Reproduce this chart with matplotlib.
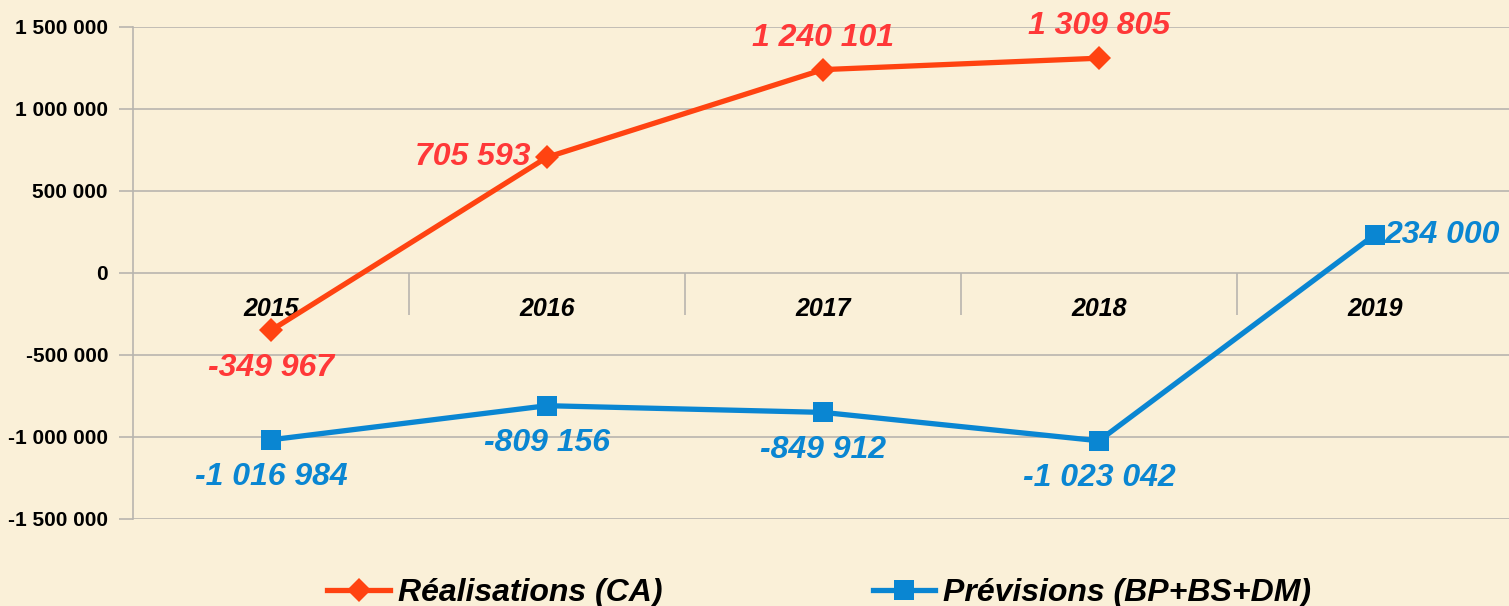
import matplotlib
matplotlib.use("Agg")
from matplotlib import pyplot as plt

years = ["2015", "2016", "2017", "2018", "2019"]
realisations = [-349967, 705593, 1240101, 1309805]
previsions = [-1016984, -809156, -849912, -1023042, 234000]
y_ticks = [-1500000, -1000000, -500000, 0, 500000, 1000000, 1500000]

# where each data label sits relative to its point (offset in points, ha, va)
real_label_pos = [((0, -27), "center", "center"), ((-12, 0), "right", "center"),
                  ((0, 23), "center", "center"), ((0, 23), "center", "center")]
prev_label_pos = [((0, -27), "center", "center"), ((0, -27), "center", "center"),
                  ((0, -27), "center", "center"), ((0, -27), "center", "center"),
                  ((7, 0), "left", "center")]

RED_LINE = "#FF4311"
RED_TEXT = "#FF3838"
BLUE = "#0A86D2"
BG = "#FAF0D8"
GRID = "#B8B5AE"

plt.rcParams["font.family"] = ["Liberation Sans", "DejaVu Sans"]


def fmt(v):
    s = f"{abs(v):,}".replace(",", " ")
    return ("-" if v < 0 else "") + s


fig = plt.figure(figsize=(15.09, 6.06), dpi=100, facecolor=BG)
ax = fig.add_axes([133 / 1509, 87 / 606, 1 - 133 / 1509, 492 / 606])
ax.set_facecolor(BG)

x_real = list(range(len(realisations)))
x_prev = list(range(len(previsions)))

ax.plot(x_real, realisations, color=RED_LINE, lw=3.8, marker="D", ms=12,
        mec=RED_LINE, mew=0, label="Réalisations (CA)", zorder=4)
ax.plot(x_prev, previsions, color=BLUE, lw=3.8, marker="s", ms=14,
        mec=BLUE, mew=0, label="Prévisions (BP+BS+DM)", zorder=4)

for x, v, (off, ha, va) in zip(x_real, realisations, real_label_pos):
    ax.annotate(fmt(v), (x, v), xytext=off, textcoords="offset points",
                ha=ha, va=va, color=RED_TEXT, fontsize=23,
                fontweight="bold", fontstyle="italic", zorder=5)
for x, v, (off, ha, va) in zip(x_prev, previsions, prev_label_pos):
    ax.annotate(fmt(v), (x, v), xytext=off, textcoords="offset points",
                ha=ha, va=va, color=BLUE, fontsize=23,
                fontweight="bold", fontstyle="italic", zorder=5)

ax.set_xlim(-0.5, 4.486)
ax.set_ylim(-1500000, 1500000)

# y axis
ax.set_yticks(y_ticks)
ax.set_yticklabels([fmt(v) for v in y_ticks], fontsize=15, fontweight="bold")
ax.tick_params(axis="y", length=10, width=1.2, color=GRID, pad=8)
ax.grid(True, axis="y", color=GRID, lw=1.2)
ax.set_axisbelow(True)
ax.set_xticks([])
for side in ["top", "right", "bottom"]:
    ax.spines[side].set_visible(False)
ax.spines["left"].set_color(GRID)
ax.spines["left"].set_linewidth(1.2)

# category axis sits on zero: separators and year labels
sep_depth = 42 / 492 * 3000000
ax.vlines([i + 0.5 for i in range(len(years) - 1)], -sep_depth, 0,
          color=GRID, lw=1.2, zorder=1)
for i, y in enumerate(years):
    ax.annotate(y, (i, 0), xytext=(0, -26), textcoords="offset points",
                ha="center", va="center", fontsize=18, fontweight="bold",
                fontstyle="italic", color="black", zorder=3)

fig.legend(loc="center", bbox_to_anchor=(0.543, 0.021), ncol=2, frameon=False,
           prop={"size": 23, "weight": "bold", "style": "italic"},
           handlelength=1.95, handletextpad=0.25, columnspacing=6.6,
           borderaxespad=0, borderpad=0)

fig.savefig("out.png", dpi=100, facecolor=BG)
